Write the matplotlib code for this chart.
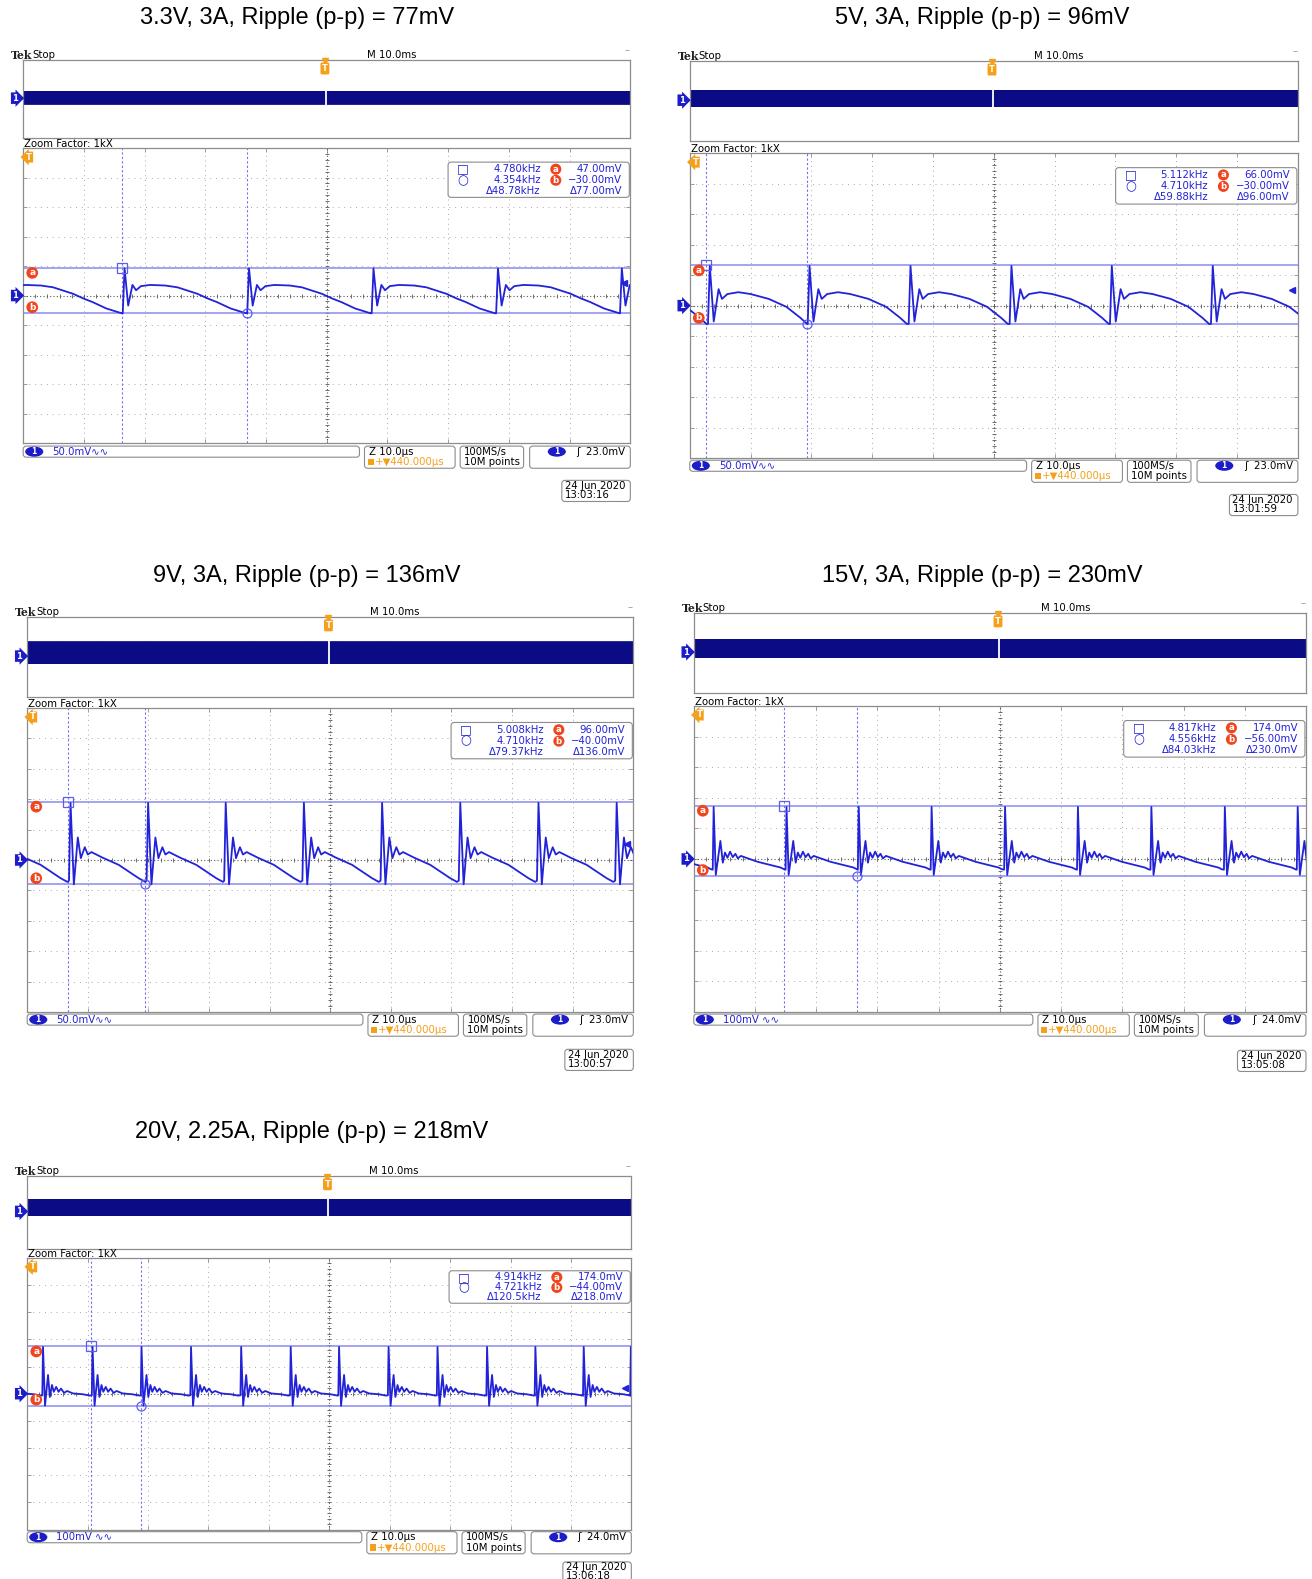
import matplotlib
matplotlib.use("Agg")
import matplotlib.pyplot as plt
from matplotlib.patches import FancyBboxPatch, Ellipse, Rectangle
import numpy as np

TITLES = [
    "3.3V, 3A, Ripple (p-p) = 77mV",
    "5V, 3A, Ripple (p-p) = 96mV",
    "9V, 3A, Ripple (p-p) = 136mV",
    "15V, 3A, Ripple (p-p) = 230mV",
    "20V, 2.25A, Ripple (p-p) = 218mV",
]
MV_PER_DIV = [50, 50, 50, 100, 100]
SCALE_LABEL = ["50.0mV", "50.0mV", "50.0mV", "100mV ", "100mV "]
TRIG_LEVEL = ["23.0mV", "23.0mV", "23.0mV", "24.0mV", "24.0mV"]
TIMESTAMP = ["13:03:16", "13:01:59", "13:00:57", "13:05:08", "13:06:18"]

# switching spikes inside the 100 us zoom window (us)
SPIKES_US = [
    [16.4, 36.9, 57.4, 77.9, 98.3],
    [3.0, 19.4, 36.0, 52.6, 69.1, 85.7],
    [6.9, 19.7, 32.5, 45.4, 58.3, 71.2, 84.1, 97.0],
    [3.1, 15.0, 26.8, 38.7, 50.7, 62.6, 74.6, 86.6, 98.5],
    [2.5, 10.7, 18.8, 27.0, 35.3, 43.5, 51.5, 59.7, 67.8, 76.0, 84.0, 92.0, 99.8],
]
# one ripple period after each spike: time after spike (us) and level (mV)
CYCLE_US = [
    [0.0, 0.3, 0.9, 1.6, 2.2, 3.0, 4.5, 7.0, 9.0, 10.5, 12.3, 14.0, 15.5, 17.8, 20.3],
    [0.0, 0.3, 0.95, 1.75, 2.3, 3.2, 5.0, 7.0, 10.0, 12.9, 15.2, 16.3],
    [0.0, 0.25, 0.8, 1.45, 1.95, 2.6, 3.1, 3.7, 5.5, 8.2, 11.5, 12.6],
    [0.0, 0.15, 0.5, 1.25, 1.65, 2.0, 2.4, 2.83, 3.27, 3.7, 4.1, 4.6, 7.3, 11.1, 11.7],
    [0.0, 0.12, 0.45, 0.95, 1.25, 1.6, 1.9, 2.3, 2.7, 3.1, 3.6, 4.1, 5.1, 6.7, 7.9],
]
CYCLE_MV = [
    [-30, 46, -17, 18, 9, 16, 18, 17, 14, 9, 3, -5, -11, -22, -30],
    [-30, 65, -26, 27, 11, 19, 22, 19, 11, -2, -20, -30],
    [-34, 94, -40, 37, 3, 21, 9, 13, 4, -8, -30, -36],
    [-35, 170, -52, 59, -12, 21, 4, 24, 6, 17, 2, 10, -9, -28, -34],
    [-6, 172, -44, 69, -12, 32, 7, 25, 7, 19, 3, 10, 1, -2, -7],
]
CURSOR_A_MV = [47, 66, 96, 174, 174]
CURSOR_B_MV = [-30, -30, -40, -56, -44]
CURSOR_T1_US = [16.3, 2.6, 6.8, 14.75, 10.6]
CURSOR_T2_US = [36.8, 19.3, 19.4, 26.65, 18.9]
OFFSET_ARROW_MV = [21, 26, 26, None, 20]

READ_F1 = ["4.780kHz", "5.112kHz", "5.008kHz", "4.817kHz", "4.914kHz"]
READ_F2 = ["4.354kHz", "4.710kHz", "4.710kHz", "4.556kHz", "4.721kHz"]
READ_DF = ["Δ48.78kHz", "Δ59.88kHz", "Δ79.37kHz", "Δ84.03kHz", "Δ120.5kHz"]
READ_VA = ["47.00mV", "66.00mV", "96.00mV", "174.0mV", "174.0mV"]
READ_VB = ["−30.00mV", "−30.00mV", "−40.00mV", "−56.00mV", "−44.00mV"]
READ_DV = ["Δ77.00mV", "Δ96.00mV", "Δ136.0mV", "Δ230.0mV", "Δ218.0mV"]

# ---- page layout (pixels of a 1303x1568 page) ----
# L, R, overview top/bottom, zoom top/bottom, bottom bar top, title y, title x, date offset
LAYOUT = [
    (23, 626, 60, 137, 147, 440, 443, 18, 295, 34),
    (685, 1289, 61, 140, 152, 455, 457, 18, 975, 34),
    (27, 629, 613, 692, 703, 1005, 1007, 572, 305, 35),
    (689, 1297, 609, 688, 701, 1005, 1007, 572, 976, 36),
    (27, 627, 1168, 1240, 1249, 1519, 1521, 1124, 309, 30),
]
W, H = 1303, 1568

TRACE = "#2222d8"
BAND = "#0b0b86"
CURSOR = "#8a8af2"
CH_BLUE = "#1c1cc8"
ORANGE = "#f5a01a"
RED = "#f0461e"
EDGE = "#8c8c8c"
SCOPE_FONT = "DejaVu Sans"
FS = 7.3

fig = plt.figure(figsize=(13.12, 15.79), dpi=100)
fig.patch.set_facecolor("white")


def add_px_axes(x0, y0, x1, y1, **kw):
    return fig.add_axes([x0 / W, 1 - y1 / H, (x1 - x0) / W, (y1 - y0) / H], **kw)


ov = add_px_axes(0, 0, W, H, zorder=10)
ov.set_xlim(0, W)
ov.set_ylim(H, 0)
ov.axis("off")
ov.patch.set_alpha(0)


def rbox(x0, y0, x1, y1, r=3, ec=EDGE, lw=0.8):
    ov.add_patch(FancyBboxPatch((x0, y0), x1 - x0, y1 - y0,
                                boxstyle=f"round,pad=0,rounding_size={r}",
                                fc="white", ec=ec, lw=lw))


def txt(x, y, s, color="black", size=FS, ha="left", **kw):
    ov.text(x, y, s, color=color, fontsize=size, ha=ha, va="center",
            family=SCOPE_FONT, **kw)


def badge(x, y, s, fc, style, size=6.0):
    ov.text(x, y, s, color="white", fontsize=size, ha="center", va="center",
            fontweight="bold", family=SCOPE_FONT,
            bbox=dict(boxstyle=style, fc=fc, ec="none"))


def oval_one(x, y):
    ov.add_patch(Ellipse((x, y), 18, 10, fc=CH_BLUE, ec="none"))
    ov.text(x, y, "1", color="white", fontsize=5.5, ha="center", va="center",
            fontweight="bold", family=SCOPE_FONT)


def tile(starts, tt, vv):
    t = (np.asarray(starts)[:, None] + np.asarray(tt)[None, :]).ravel()
    return t, np.tile(vv, len(starts))


for i in range(5):
    L, R, ovt, ovb, mt, mb, bt, ty, tcx, dt = LAYOUT[i]
    vd = MV_PER_DIV[i]
    spikes = SPIKES_US[i]
    per = float(np.mean(np.diff(spikes)))
    k = (R - L) / 603.0
    hm = (mb - mt) / 293.0

    # title
    ov.text(tcx, ty, TITLES[i], fontsize=17, family="Liberation Sans",
            ha="center", va="center")

    # ---- overview record (100 ms) ----
    axo = add_px_axes(L, ovt, R, ovb)
    starts = spikes[0] + per * np.arange(-1, int(1e5 / per) + 2)
    t, v = tile(starts, CYCLE_US[i], CYCLE_MV[i])
    axo.plot(t / 1000.0, v, color=BAND, lw=0.6)
    axo.axvline(49.8, color="white", lw=1.3)
    axo.set_xlim(0, 100)
    axo.set_ylim(-5 * vd, 5 * vd)
    axo.set_xticks([])
    axo.set_yticks([])
    for sp in axo.spines.values():
        sp.set_color(EDGE)
        sp.set_linewidth(0.9)

    # ---- zoom window (100 us) ----
    axm = add_px_axes(L, mt, R, mb)
    axm.set_xlim(0, 100)
    axm.set_ylim(-5 * vd, 5 * vd)
    for x in range(10, 100, 10):
        if x != 50:
            axm.axvline(x, color="#a8a8a8", ls=(0, (1, 4)), lw=0.7)
    for yy in range(-4, 5):
        if yy != 0:
            axm.axhline(yy * vd, color="#a8a8a8", ls=(0, (1, 5)), lw=0.7)
    axm.axvline(50, color="#5a5a5a", ls=(0, (1, 2)), lw=0.8)
    axm.axhline(0, color="#5a5a5a", ls=(0, (1, 2)), lw=0.8)
    axm.plot(np.arange(0, 100.1, 2), np.zeros(51), ls="none", marker="|",
             ms=3, mew=0.6, color="#5a5a5a")
    axm.plot(np.full(51, 50.0), np.arange(-5, 5.01, 0.2) * vd, ls="none",
             marker="_", ms=3, mew=0.6, color="#5a5a5a")
    axm.set_xticks(np.arange(0, 101, 10))
    axm.set_yticks(np.arange(-5, 6) * vd)
    axm.tick_params(direction="in", length=3, width=0.6, color="#8a8a8a",
                    top=True, right=True, labelbottom=False, labelleft=False)
    for sp in axm.spines.values():
        sp.set_color(EDGE)
        sp.set_linewidth(0.9)

    # cursors
    axm.axhline(CURSOR_A_MV[i], color=CURSOR, lw=1.1)
    axm.axhline(CURSOR_B_MV[i], color=CURSOR, lw=1.1)
    axm.axvline(CURSOR_T1_US[i], color="#6f6ff0", ls=(0, (2, 2)), lw=0.8)
    axm.axvline(CURSOR_T2_US[i], color="#6f6ff0", ls=(0, (2, 2)), lw=0.8)

    # ripple trace
    t, v = tile([spikes[0] - per] + spikes, CYCLE_US[i], CYCLE_MV[i])
    axm.plot(t, v, color=TRACE, lw=1.3, zorder=5)
    axm.plot([CURSOR_T1_US[i]], [CURSOR_A_MV[i]], marker="s", ms=6.5, mfc="none",
             mec="#5c5cf0", mew=0.9, zorder=6)
    axm.plot([CURSOR_T2_US[i]], [CURSOR_B_MV[i]], marker="o", ms=6.5, mfc="none",
             mec="#5c5cf0", mew=0.9, zorder=6)
    if OFFSET_ARROW_MV[i] is not None:
        axm.plot([99.0], [OFFSET_ARROW_MV[i]], marker="<", ms=4,
                 color=TRACE, zorder=6)

    # ---- scope annotations ----
    ov.text(L - 12, ovt - 5, "Tek", fontsize=7.8, fontweight="bold",
            family="DejaVu Serif", va="center", ha="left", color="#222222")
    txt(L + 9, ovt - 5, "Stop")
    txt(L + 366 * k, ovt - 5, "M 10.0ms", ha="center")
    txt(R - 3, ovt - 10, "–", color="#9a9a9a", ha="center")
    txt(L + 1, mt - 4, "Zoom Factor: 1kX")

    ov_mid = (ovt + ovb) / 2.0
    main_mid = (mt + mb) / 2.0
    badge(L - 8, ov_mid - 1, "1", CH_BLUE, "rarrow,pad=0.15")
    badge(L - 8, main_mid, "1", CH_BLUE, "rarrow,pad=0.15")

    tx = L + 0.497 * (R - L)
    ov.plot([tx], [ovt + 1], marker="v", ms=4.5, color=ORANGE, clip_on=False)
    badge(tx, ovt + 8, "T", ORANGE, "round,pad=0.18")
    badge(L + 6, mt + 9, "T", ORANGE, "larrow,pad=0.12")

    ppd = (mb - mt) / 10.0
    ya = main_mid - CURSOR_A_MV[i] / vd * ppd
    yb = main_mid - CURSOR_B_MV[i] / vd * ppd
    badge(L + 9, ya + 5, "a", RED, "circle,pad=0.15", size=6.5)
    badge(L + 9, yb - 6, "b", RED, "circle,pad=0.15", size=6.5)

    # readout box
    r0 = mt + 14 * hm
    rbox(R - 181, r0, R - 1, r0 + 35 * hm)
    rows = [r0 + 7 * hm, r0 + 18 * hm, r0 + 28.5 * hm]
    txt(R - 166, rows[0], "□", color=TRACE, size=9, ha="center")
    txt(R - 166, rows[1], "○", color=TRACE, size=9, ha="center")
    txt(R - 89, rows[0], READ_F1[i], color=TRACE, ha="right")
    txt(R - 89, rows[1], READ_F2[i], color=TRACE, ha="right")
    txt(R - 89, rows[2], READ_DF[i], color=TRACE, ha="right")
    badge(R - 74, rows[0], "a", RED, "circle,pad=0.12", size=6.2)
    badge(R - 74, rows[1], "b", RED, "circle,pad=0.12", size=6.2)
    txt(R - 8, rows[0], READ_VA[i], color=TRACE, ha="right")
    txt(R - 8, rows[1], READ_VB[i], color=TRACE, ha="right")
    txt(R - 8, rows[2], READ_DV[i], color=TRACE, ha="right")

    # bottom status bar
    rbox(L, bt, L + 334 * k, bt + 11)
    oval_one(L + 11, bt + 5.5)
    txt(L + 29, bt + 5.5, SCALE_LABEL[i] + "∿∿", color=TRACE)

    rbox(L + 339 * k, bt, L + 429 * k, bt + 22)
    txt(L + 339 * k + 4, bt + 5.5, "Z 10.0µs")
    ov.add_patch(Rectangle((L + 339 * k + 3, bt + 12.5), 6, 6.5, fc=ORANGE, ec="none"))
    txt(L + 339 * k + 10, bt + 15.8, "+▼440.000µs", color=ORANGE)

    rbox(L + 434 * k, bt, L + 497 * k, bt + 22)
    txt(L + 434 * k + 4, bt + 5.5, "100MS/s")
    txt(L + 434 * k + 4, bt + 15.8, "10M points")

    rbox(L + 503 * k, bt, R, bt + 22)
    oval_one(L + 530 * k, bt + 5.5)
    txt(R - 5, bt + 5.5, "ʃ  " + TRIG_LEVEL[i], ha="right")

    # date stamp
    rbox(R - 68, bt + dt, R, bt + dt + 21)
    txt(R - 65, bt + dt + 5.5, "24 Jun 2020")
    txt(R - 65, bt + dt + 14.5, TIMESTAMP[i])

fig.savefig("out.png", dpi=100, facecolor="white")
